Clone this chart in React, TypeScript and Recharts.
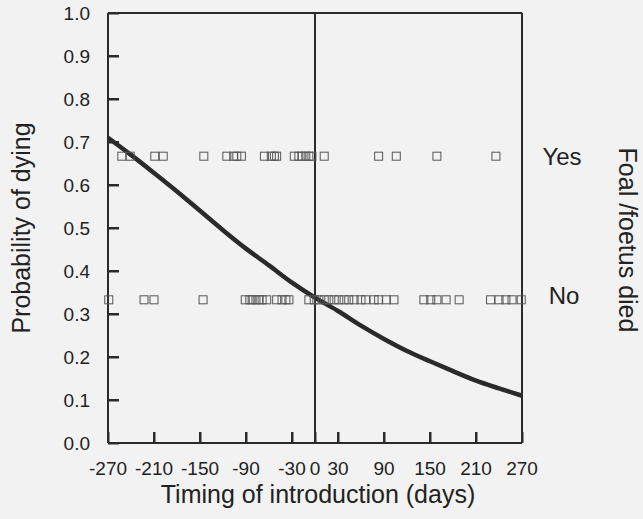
import {ComposedChart, Line, Scatter, XAxis, YAxis, ReferenceLine, Customized} from "recharts";

// fitted probability of dying
const curveDays = [-270, -240, -210, -180, -150, -120, -90, -60, -30, 0, 30, 60, 90, 120, 150, 180, 210, 240, 270];
const curveProb = [0.71, 0.67, 0.628, 0.585, 0.54, 0.495, 0.452, 0.413, 0.373, 0.338, 0.307, 0.273, 0.242, 0.214, 0.19, 0.167, 0.145, 0.127, 0.11];

// observed outcomes (days), plotted on two rows
const yesDays = [-252, -241, -209, -198, -145, -115, -106, -102, -96, -66, -57, -53, -50, -27, -21, -17, -12, -8, -4, 12, 83, 106, 159, 236];
const noDays = [-269, -223, -210, -146, -91, -85, -82, -77, -73, -69, -63, -50, -43, -38, -34, -8, -1, 5, 12, 18, 25, 31, 38, 44, 51, 60, 66, 77, 83, 93, 103, 142, 151, 159, 171, 188, 229, 240, 249, 257, 269];
const yesRow = 0.667;
const noRow = 0.333;

const xTicks = [-270, -210, -150, -90, -30, 0, 30, 90, 150, 210, 270];
const yTicks = [0, 0.1, 0.2, 0.3, 0.4, 0.5, 0.6, 0.7, 0.8, 0.9, 1];

const curve = curveDays.map((d, i) => ({day: d, p: curveProb[i]}));
const yes = yesDays.map((d) => ({day: d, p: yesRow}));
const no = noDays.map((d) => ({day: d, p: noRow}));

const font = "'Liberation Sans', Arial, sans-serif";
const ink = "#2a2a2a";
const axisStyle = {stroke: ink, strokeWidth: 2};

// plot box in px (matches the margins and axis sizes below)
const W = 643, H = 519;
const plotL = 108, plotR = 522, plotT = 13, plotB = 443;

const Square = (props: any) => (
  <rect x={props.cx - 4} y={props.cy - 4} width={8} height={8} fill="none" stroke="#555" strokeWidth={1} />
);

const XTick = ({x, y, payload}: any) => (
  <text x={x} y={y} dy="0.71em" textAnchor="middle" fontSize={19} fontFamily={font} fill="#222">
    {payload.value}
  </text>
);

const YTick = ({x, y, payload}: any) => (
  <text x={x} y={y} dy="0.35em" textAnchor="end" fontSize={19} fontFamily={font} fill="#222">
    {payload.value.toFixed(1)}
  </text>
);

// inward pointing ticks, like the original figure
const InwardTicks = () => {
  const xs = (v: number) => plotL + ((v + 270) / 540) * (plotR - plotL);
  const ys = (v: number) => plotB - v * (plotB - plotT);
  return (
    <g>
      {xTicks.map((t) => (
        <rect key={"x" + t} x={xs(t) - 1} y={plotB - 11} width={2.5} height={11} fill={ink} />
      ))}
      {yTicks.map((t) => (
        <rect key={"y" + t} x={plotL} y={ys(t) - 1} width={11} height={2.5} fill={ink} />
      ))}
    </g>
  );
};

const Titles = () => (
  <g fontFamily={font} fill="#222">
    <text x={318} y={503} textAnchor="middle" fontSize={25}>Timing of introduction (days)</text>
    <text transform="translate(30,228) rotate(-90)" textAnchor="middle" fontSize={25}>Probability of dying</text>
    <text transform="translate(619,240) rotate(90)" textAnchor="middle" fontSize={25}>Foal /foetus died</text>
    <text x={562} y={165} textAnchor="middle" fontSize={24}>Yes</text>
    <text x={564} y={304} textAnchor="middle" fontSize={24}>No</text>
  </g>
);

export default function App() {
  return (
    <div style={{position: "absolute", left: 0, top: 0, width: W, height: H, background: "#f2f2f2"}}>
      <ComposedChart width={W} height={H} margin={{top: plotT, right: W - plotR, bottom: 0, left: 0}}>
        <XAxis type="number" dataKey="day" domain={[-270, 270]} ticks={xTicks} interval={0} height={H - plotB}
          tickSize={0} tickMargin={19} tickLine={false} axisLine={axisStyle} tick={<XTick />} />
        <YAxis type="number" domain={[0, 1]} ticks={yTicks} interval={0} width={plotL}
          tickSize={0} tickMargin={18} tickLine={false} axisLine={axisStyle} tick={<YTick />} />
        <ReferenceLine y={1} stroke={ink} strokeWidth={2} />
        <ReferenceLine x={270} stroke={ink} strokeWidth={2} />
        <ReferenceLine x={0} stroke={ink} strokeWidth={2} />
        <Scatter data={yes} dataKey="p" shape={<Square />} isAnimationActive={false} />
        <Scatter data={no} dataKey="p" shape={<Square />} isAnimationActive={false} />
        <Line data={curve} dataKey="p" type="monotone" stroke={ink} strokeWidth={4.5} dot={false} isAnimationActive={false} />
        <Customized component={<InwardTicks />} />
        <Customized component={<Titles />} />
      </ComposedChart>
    </div>
  );
}
